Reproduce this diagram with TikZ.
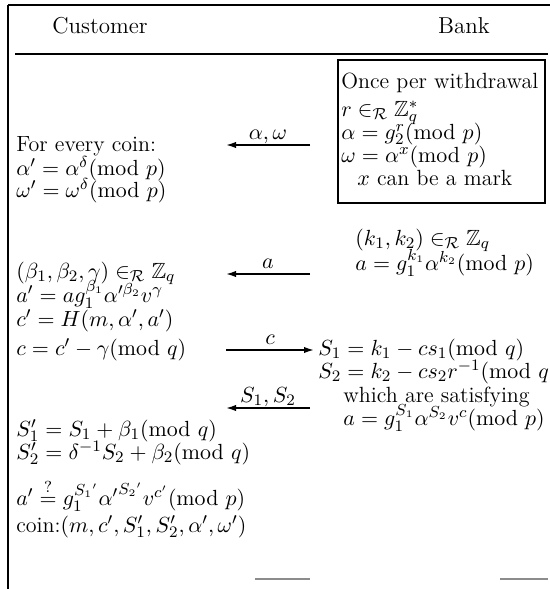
\documentclass[tikz,border=0pt]{standalone}
\usepackage{amssymb}
\usetikzlibrary{arrows.meta}
\begin{document}
\begin{tikzpicture}[x=0.5pt,y=-0.5pt,
  txt/.style={anchor=base west,inner sep=0pt,text height=6.5pt,text depth=1.5pt,font=\fontsize{11}{13}\selectfont},
  head/.style={anchor=base,inner sep=0pt,font=\fontsize{11.5}{13}\selectfont},
  msg/.style={-{Latex[length=5pt,width=3.2pt]},line width=0.8pt},
  lbl/.style={above,inner sep=1.5pt,text height=6.5pt,text depth=1pt,font=\fontsize{11}{13}\selectfont},
  rule/.style={line width=0.9pt},
  scan/.style={line width=0.6pt,black!45}]
\useasboundingbox (0,0) rectangle (550,589);
% frame
\draw[rule] (8,5) -- (550,5);
\draw[line width=1.1pt] (8,5) -- (8,589);
\draw[rule] (15,54) -- (548,54);
\draw[scan] (255,579) -- (310,579);
\draw[scan] (500,579) -- (548,579);
% headers
\node[head] (cust) at (100,33) {Customer};
\node[head] (bank) at (464,33) {Bank};
% bank box
\draw[line width=0.8pt] (338,60) rectangle (545,203);
\node[txt] (once) at (341,88) {Once per withdrawal};
\node[txt] (r) at (341,116) {$r \in_{\mathcal R} \mathbb{Z}_q^*$};
\node[txt] (alpha) at (341,139) {$\alpha = g_2^r(\mathrm{mod}\ p)$};
\node[txt] (omega) at (341,162) {$\omega = \alpha^x(\mathrm{mod}\ p)$};
\node[txt] (mark) at (357,185) {$x$ can be a mark};
% customer step 1
\node[txt] (every) at (16,151) {For every coin:};
\node[txt] (alphap) at (16,175) {$\alpha' = \alpha^\delta(\mathrm{mod}\ p)$};
\node[txt] (omegap) at (16,197) {$\omega' = \omega^\delta(\mathrm{mod}\ p)$};
% bank step 2
\node[txt] (k) at (355,245) {$(k_1,k_2) \in_{\mathcal R} \mathbb{Z}_q$};
\node[txt] (a) at (355,270) {$a = g_1^{k_1}\alpha^{k_2}(\mathrm{mod}\ p)$};
% customer step 2
\node[txt] (beta) at (16,278) {$(\beta_1,\beta_2,\gamma) \in_{\mathcal R} \mathbb{Z}_q$};
\node[txt] (ap) at (16,302) {$a' = a g_1^{\beta_1}\alpha'^{\beta_2} v^{\gamma}$};
\node[txt] (cp) at (16,326) {$c' = H(m,\alpha',a')$};
\node[txt] (c) at (16,355) {$c = c' - \gamma(\mathrm{mod}\ q)$};
% bank step 3
\node[txt] (S1) at (318,355) {$S_1 = k_1 - cs_1(\mathrm{mod}\ q)$};
\node[txt] (S2) at (318,378) {$S_2 = k_2 - cs_2r^{-1}(\mathrm{mod}\ q$};
\node[txt] (which) at (343,402) {which are satisfying};
\node[txt] (check) at (343,425) {$a = g_1^{S_1}\alpha^{S_2}v^{c}(\mathrm{mod}\ p)$};
% customer step 3
\node[txt] (S1p) at (16,436) {$S_1' = S_1 + \beta_1(\mathrm{mod}\ q)$};
\node[txt] (S2p) at (16,459) {$S_2' = \delta^{-1}S_2 + \beta_2(\mathrm{mod}\ q)$};
\node[txt] (verify) at (16,505) {$a' \stackrel{?}{=} g_1^{{S_1}'}{\alpha'}^{{S_2}'}v^{c'}(\mathrm{mod}\ p)$};
\node[txt] (coin) at (16,532) {coin:$(m,c',S_1',S_2',\alpha',\omega')$};
% message arrows
\coordinate (m1b) at (310,145); \coordinate (m1c) at (226,145);
\coordinate (m2b) at (310,274); \coordinate (m2c) at (226,274);
\coordinate (m3c) at (226,350); \coordinate (m3b) at (314,350);
\coordinate (m4b) at (310,408); \coordinate (m4c) at (226,408);
\draw[msg] (m1b) -- node[lbl] {$\alpha,\omega$} (m1c);
\draw[msg] (m2b) -- node[lbl] {$a$} (m2c);
\draw[msg] (m3c) -- node[lbl] {$c$} (m3b);
\draw[msg] (m4b) -- node[lbl] {$S_1,S_2$} (m4c);
\end{tikzpicture}
\end{document}
